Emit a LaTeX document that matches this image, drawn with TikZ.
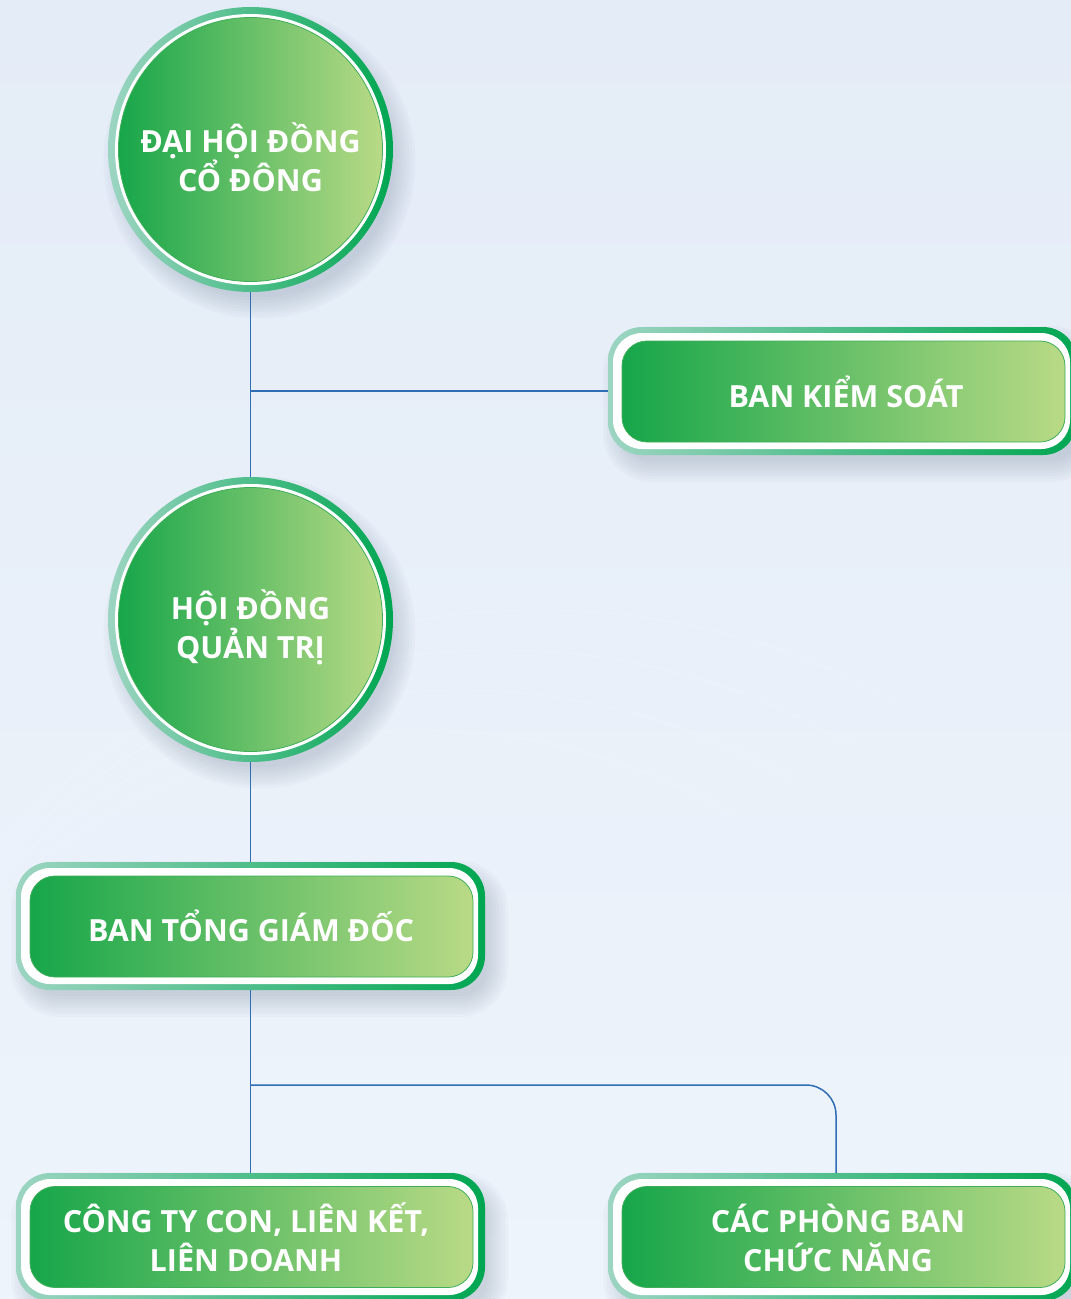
\documentclass[tikz,border=0pt]{standalone}
\usepackage{fontspec}
\setmainfont{Open Sans}
\definecolor{bgA}{HTML}{E4ECF7}
\definecolor{bgB}{HTML}{EEF4FB}
\definecolor{ringL}{HTML}{9CD5C2}
\definecolor{ringR}{HTML}{00A651}
\definecolor{fillL}{HTML}{17A64A}
\definecolor{fillR}{HTML}{B9DA86}
\definecolor{edgeG}{HTML}{3FAE5A}
\definecolor{conn}{HTML}{2F6DB5}
\definecolor{shadowc}{HTML}{4A5A78}
\tikzset{
  cring/.style={circle, inner sep=0, minimum size=285pt, left color=ringL, right color=ringR, draw=none},
  cwhite/.style={circle, inner sep=0, minimum size=271pt, fill=white, draw=none},
  cfill/.style={circle, inner sep=0, minimum size=264pt, left color=fillL, right color=fillR, draw=edgeG, line width=0.8pt},
  bring/.style={rectangle, inner sep=0, minimum width=469pt, minimum height=128pt, rounded corners=34pt, left color=ringL, right color=ringR, draw=none},
  bwhite/.style={rectangle, inner sep=0, minimum width=457pt, minimum height=116pt, rounded corners=29pt, fill=white, draw=none},
  bfill/.style={rectangle, inner sep=0, minimum width=443pt, minimum height=101pt, rounded corners=25pt, left color=fillL, right color=fillR, draw=edgeG, line width=0.8pt},
  lbl/.style={text=white, font=\fontsize{30.5}{39}\selectfont\bfseries, align=center},
  connector/.style={draw=conn, line width=1.5pt},
  softshadow/.style={fill=shadowc, opacity=0.028, draw=none},
}
\newcommand{\mycircshadow}[2]{%
  \foreach \e in {14,11,...,-7}{%
    \fill[softshadow] ({#1+9},{#2+13}) circle[radius={142+\e}];}}
\newcommand{\myboxshadow}[2]{%
  \foreach \e in {14,11,...,-7}{%
    \pgfmathsetmacro\rr{34+\e}%
    \fill[softshadow, rounded corners=\rr pt] ({#1+9-234.5-\e},{#2+13-64-\e}) rectangle ({#1+9+234.5+\e},{#2+13+64+\e});}}
\begin{document}
\begin{tikzpicture}[x=1pt,y=-1pt]
\useasboundingbox (0,0) rectangle (1071,1299);
\clip (0,0) rectangle (1071,1299);
\shade[top color=bgA, bottom color=bgB] (0,0) rectangle (1071,1299);
% faint background waves
\foreach \r in {620,660,700,740}{
  \draw[white, opacity=0.18, line width=1.2pt] (-200,1350) arc[start angle=180, end angle=60, radius=\r pt];
}
% soft shadows
\mycircshadow{250.5}{149.5}
\mycircshadow{250.5}{619.5}
\myboxshadow{842.5}{391}
\myboxshadow{250.5}{926}
\myboxshadow{250.5}{1237}
\myboxshadow{842.5}{1237}
% circle 1
\node[cring] (c1) at (250.5,149.5) {};
\node[cwhite] (c1w) at (c1) {};
\node[cfill] (c1f) at (c1) {};
\node[lbl] (c1t) at (250.5,157.5) {ĐẠI HỘI ĐỒNG\\CỔ ĐÔNG};
% circle 2
\node[cring] (c2) at (250.5,619.5) {};
\node[cwhite] (c2w) at (c2) {};
\node[cfill] (c2f) at (c2) {};
\node[lbl] (c2t) at (250.5,627.5) {HỘI ĐỒNG\\QUẢN TRỊ};
% box BKS
\node[bring] (b1) at (842.5,391) {};
\node[bwhite] (b1w) at (841.5,391) {};
\node[bfill] (b1f) at (843.5,391.5) {};
\node[lbl] (b1t) at (846,391.5) {BAN KIỂM SOÁT};
% box BTGD
\node[bring] (b2) at (250.5,926) {};
\node[bwhite] (b2w) at (249.5,926) {};
\node[bfill] (b2f) at (251.5,926.5) {};
\node[lbl] (b2t) at (251,926) {BAN TỔNG GIÁM ĐỐC};
% box CTC
\node[bring] (b3) at (250.5,1237) {};
\node[bwhite] (b3w) at (249.5,1237) {};
\node[bfill] (b3f) at (251.5,1237) {};
\node[lbl] (b3t) at (246,1237.5) {CÔNG TY CON, LIÊN KẾT,\\LIÊN DOANH};
% box CPB
\node[bring] (b4) at (842.5,1237) {};
\node[bwhite] (b4w) at (841.5,1237) {};
\node[bfill] (b4f) at (843.5,1237) {};
\node[lbl] (b4t) at (838,1237.5) {CÁC PHÒNG BAN\\CHỨC NĂNG};
% junctions
\coordinate (j1) at (c1.south |- b1.west);
\coordinate (j2) at (250.5,1085);
% connectors
\draw[connector] (c1.south) -- (c2.north);
\draw[connector] (j1) -- (b1.west);
\draw[connector] (c2.south) -- (b2.north);
\draw[connector] (b2.south) -- (b3.north);
\draw[connector, rounded corners=30pt] (j2) -| ([xshift=-6.5pt]b4.north);
\end{tikzpicture}
\end{document}
